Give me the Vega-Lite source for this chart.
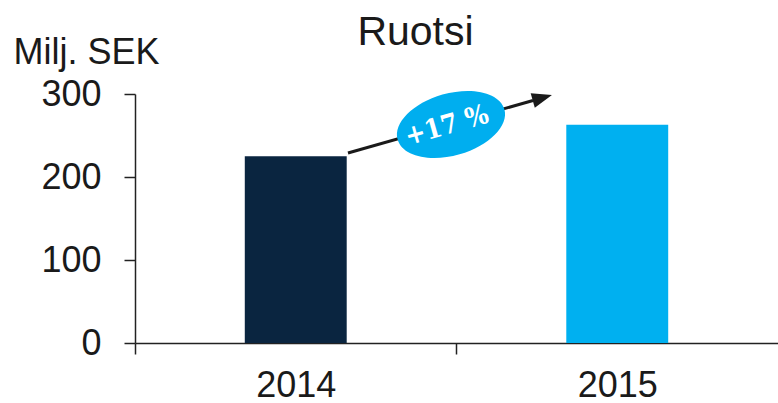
{
  "$schema": "https://vega.github.io/schema/vega-lite/v6.json",
  "width": 643,
  "height": 249,
  "autosize": {"type": "none"},
  "padding": {"left": 135, "top": 94, "right": 0, "bottom": 60},
  "title": {"text": "Ruotsi", "fontSize": 41, "font": "Liberation Sans", "fontWeight": "normal", "color": "#1a1a1a", "anchor": "middle", "dx": -41, "offset": 47, "dy": 99, "baseline": "alphabetic"},
  "config": {"view": {"stroke": null}, "font": "Liberation Sans"},
  "datasets": {
    "bars": [{"year": "2014", "value": 225}, {"year": "2015", "value": 263}],
    "arrow": [{"x": 0.6625, "value": 228.9, "x2": 1.238, "value2": 292.2}],
    "head": [{"x": 1.267, "value": 295.5}],
    "badge": [{"x": 0.983, "value": 263.3, "label": "+17 %"}],
    "badgeText": [{"x": 0.970, "value": 261.4, "label": "+17 %"}]
  },
  "layer": [
    {
      "data": {"name": "bars"},
      "mark": {"type": "bar"},
      "encoding": {
        "x": {"field": "year", "type": "nominal", "scale": {"paddingInner": 0.683, "paddingOuter": 0.3415},
          "axis": {"title": null, "labelAngle": 0, "labelFontSize": 36, "labelPadding": 14, "tickSize": 11, "tickOffset": -160.75, "labelOffset": 160.75, "domainColor": "#222222", "tickColor": "#222222", "domainWidth": 1.5, "tickWidth": 1.5, "labelColor": "#1a1a1a"}},
        "y": {"field": "value", "type": "quantitative", "scale": {"domain": [0, 300]},
          "axis": {"values": [0, 100, 200, 300], "title": "Milj. SEK", "titleAngle": 0, "titleAlign": "left", "titleBaseline": "alphabetic", "titleX": -122, "titleY": -31, "titleFontSize": 36, "titleFontWeight": "normal", "titleColor": "#1a1a1a", "labelFontSize": 36, "labelColor": "#1a1a1a", "labelPadding": 23, "tickSize": 11, "tickWidth": 1.5, "domainWidth": 1.5, "domainColor": "#222222", "tickColor": "#222222", "grid": false}},
        "color": {"field": "year", "type": "nominal", "scale": {"domain": ["2014", "2015"], "range": ["#0a2540", "#00b0f0"]}, "legend": null}
      }
    },
    {
      "layer": [
        {
          "data": {"name": "arrow"},
          "mark": {"type": "rule", "strokeWidth": 3, "color": "#1a1a1a"},
          "encoding": {
            "x": {"field": "x", "type": "quantitative", "scale": {"domain": [0, 2], "nice": false, "zero": false}, "axis": null},
            "x2": {"field": "x2"},
            "y": {"field": "value", "type": "quantitative"},
            "y2": {"field": "value2"}
          }
        },
        {
          "data": {"name": "head"},
          "mark": {"type": "point", "filled": true, "opacity": 1, "color": "#1a1a1a", "shape": "M-1,-0.75L1,0L-1,0.75Z", "angle": -16, "size": 400},
          "encoding": {
            "x": {"field": "x", "type": "quantitative", "axis": null},
            "y": {"field": "value", "type": "quantitative"}
          }
        },
        {
          "data": {"name": "badge"},
          "mark": {"type": "point", "filled": true, "opacity": 1, "color": "#00aeef", "shape": "M-1,0C-1,-0.309,-0.552,-0.56,0,-0.56C0.552,-0.56,1,-0.309,1,0C1,0.309,0.552,0.56,0,0.56C-0.552,0.56,-1,0.309,-1,0Z", "angle": -16, "size": 12321},
          "encoding": {
            "x": {"field": "x", "type": "quantitative", "axis": null},
            "y": {"field": "value", "type": "quantitative"}
          }
        },
        {
          "data": {"name": "badgeText"},
          "mark": {"type": "text", "font": "DejaVu Serif Condensed, DejaVu Serif", "fontWeight": "bold", "fontSize": 27, "color": "#ffffff", "angle": -16, "align": "center", "baseline": "middle"},
          "encoding": {
            "x": {"field": "x", "type": "quantitative", "axis": null},
            "y": {"field": "value", "type": "quantitative"},
            "text": {"field": "label"}
          }
        }
      ]
    }
  ],
  "resolve": {"scale": {"x": "independent"}, "axis": {"x": "independent"}}
}
